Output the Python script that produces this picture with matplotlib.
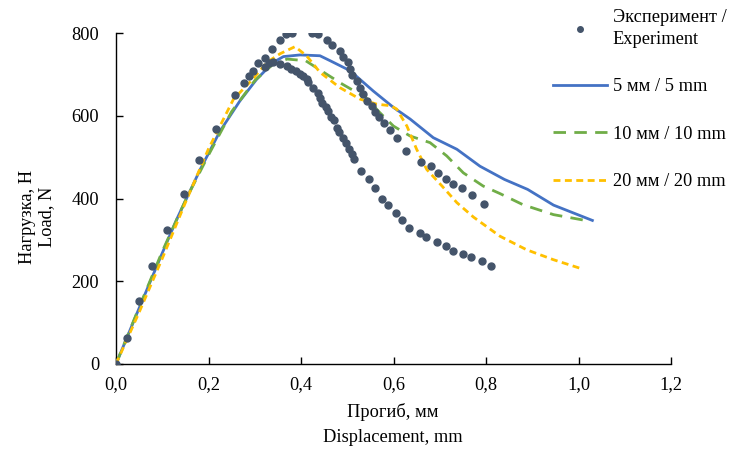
import numpy as np
import matplotlib
matplotlib.use("Agg")
import matplotlib.pyplot as plt

# experiment points (two specimens in one series)
exp_x = [0.0, 0.023, 0.05, 0.078, 0.111, 0.147, 0.179, 0.216, 0.257, 0.277, 0.287, 0.297,
         0.306, 0.322, 0.338, 0.355, 0.368, 0.381, 0.423, 0.436, 0.456, 0.468, 0.484, 0.491,
         0.501, 0.507, 0.511, 0.520, 0.528, 0.533, 0.542, 0.553, 0.560, 0.569, 0.579, 0.592,
         0.608, 0.627, 0.660, 0.680, 0.696, 0.713, 0.729, 0.748, 0.770, 0.796,
         0.322, 0.331, 0.339, 0.355, 0.369, 0.378, 0.390, 0.398, 0.405, 0.412, 0.416, 0.425,
         0.436, 0.441, 0.446, 0.453, 0.458, 0.465, 0.472, 0.478, 0.482, 0.491, 0.498, 0.504,
         0.511, 0.515, 0.530, 0.546, 0.560, 0.576, 0.589, 0.605, 0.618, 0.634, 0.657, 0.670,
         0.693, 0.713, 0.729, 0.751, 0.768, 0.791, 0.810]
exp_y = [0, 62, 153, 238, 325, 412, 492, 569, 650, 678, 695, 707,
         727, 739, 761, 783, 797, 801, 801, 798, 784, 771, 757, 743,
         729, 714, 699, 684, 667, 652, 635, 624, 608, 597, 583, 565,
         547, 514, 488, 478, 462, 448, 434, 426, 408, 387,
         718, 727, 729, 725, 721, 714, 709, 700, 695, 688, 682, 667,
         655, 644, 632, 621, 612, 597, 589, 571, 561, 547, 533, 520,
         507, 496, 466, 448, 426, 398, 384, 365, 349, 328, 317, 306,
         295, 284, 274, 266, 259, 248, 238]

# 5 mm
x5 = [0, 0.05, 0.1, 0.131, 0.182, 0.225, 0.268, 0.304, 0.340, 0.362, 0.398, 0.441, 0.463,
      0.506, 0.556, 0.6, 0.636, 0.686, 0.737, 0.787, 0.84, 0.89, 0.946, 1.03]
y5 = [0, 135, 268, 349, 470, 563, 636, 688, 729, 743, 747, 745, 733,
      709, 660, 620, 592, 547, 519, 478, 446, 422, 384, 347]

# 10 mm
x10 = [0, 0.05, 0.1, 0.15, 0.2, 0.25, 0.3, 0.34, 0.37, 0.41, 0.456, 0.49, 0.54, 0.57, 0.6,
       0.636, 0.679, 0.715, 0.751, 0.794, 0.83, 0.88, 0.946, 1.01]
y10 = [0, 137, 272, 395, 505, 610, 685, 725, 737, 733, 700, 676, 644, 608, 575,
       551, 535, 503, 462, 430, 412, 385, 361, 348]

# 20 mm
x20 = [0, 0.05, 0.1, 0.15, 0.2, 0.254, 0.297, 0.326, 0.355, 0.387, 0.412, 0.441, 0.484,
       0.528, 0.564, 0.595, 0.607, 0.629, 0.650, 0.672, 0.705, 0.737, 0.773, 0.83, 0.888,
       0.946, 1.01]
y20 = [0, 125, 255, 390, 520, 640, 690, 729, 750, 767, 745, 705, 668,
       640, 628, 624, 616, 575, 519, 470, 430, 390, 355, 309, 276,
       252, 229]

xticks = [0, 0.2, 0.4, 0.6, 0.8, 1.0, 1.2]
xtick_labels = ["0,0", "0,2", "0,4", "0,6", "0,8", "1,0", "1,2"]
yticks = [0, 200, 400, 600, 800]

plt.rcParams["font.family"] = ["Liberation Serif", "DejaVu Serif"]
fs = 13.2

fig = plt.figure(figsize=(7.36, 4.55), dpi=100)
ax = fig.add_axes([116 / 736, 91 / 455, 555 / 736, 331 / 455])

ax.plot(exp_x, exp_y, linestyle="none", marker="o", markersize=5.0, color="#44546A",
        label="Эксперимент /\nExperiment", zorder=4)
ax.plot(x5, y5, color="#4472C4", lw=2.0, label="5 мм / 5 mm", zorder=3)
ax.plot(x10, y10, color="#70AD47", lw=2.0, dashes=(4.5, 3), label="10 мм / 10 mm", zorder=3)
ax.plot(x20, y20, color="#FFC000", lw=2.0, dashes=(2.5, 1.6), label="20 мм / 20 mm", zorder=3)

ax.set_xlim(0, 1.2)
ax.set_ylim(0, 800)
ax.set_xticks(xticks)
ax.set_xticklabels(xtick_labels)
ax.set_yticks(yticks)
ax.tick_params(direction="in", length=5, width=1, labelsize=fs)
ax.tick_params(axis="y", pad=12)
ax.tick_params(axis="x", pad=9)
ax.spines["top"].set_visible(False)
ax.spines["right"].set_visible(False)
for s in ("left", "bottom"):
    ax.spines[s].set_linewidth(1.0)

fig.text(393 / 736, 1 - 412 / 455, "Прогиб, мм", ha="center", va="center", fontsize=fs)
fig.text(393 / 736, 1 - 437 / 455, "Displacement, mm", ha="center", va="center", fontsize=fs)
fig.text(37 / 736, 1 - 217 / 455, "Нагрузка, Н\nLoad, N", ha="center", va="center",
         rotation=90, fontsize=fs, linespacing=1.15)

leg = ax.legend(loc="upper left", bbox_to_anchor=(553 / 736, 1 - 9 / 455),
                bbox_transform=fig.transFigure, frameon=False, fontsize=fs,
                handlelength=2.95, handletextpad=0.3, labelspacing=1.65, borderaxespad=0,
                borderpad=0, markerscale=0.8)
for t in leg.get_texts():
    t.set_linespacing(1.4)

fig.savefig("out.png", dpi=100)
